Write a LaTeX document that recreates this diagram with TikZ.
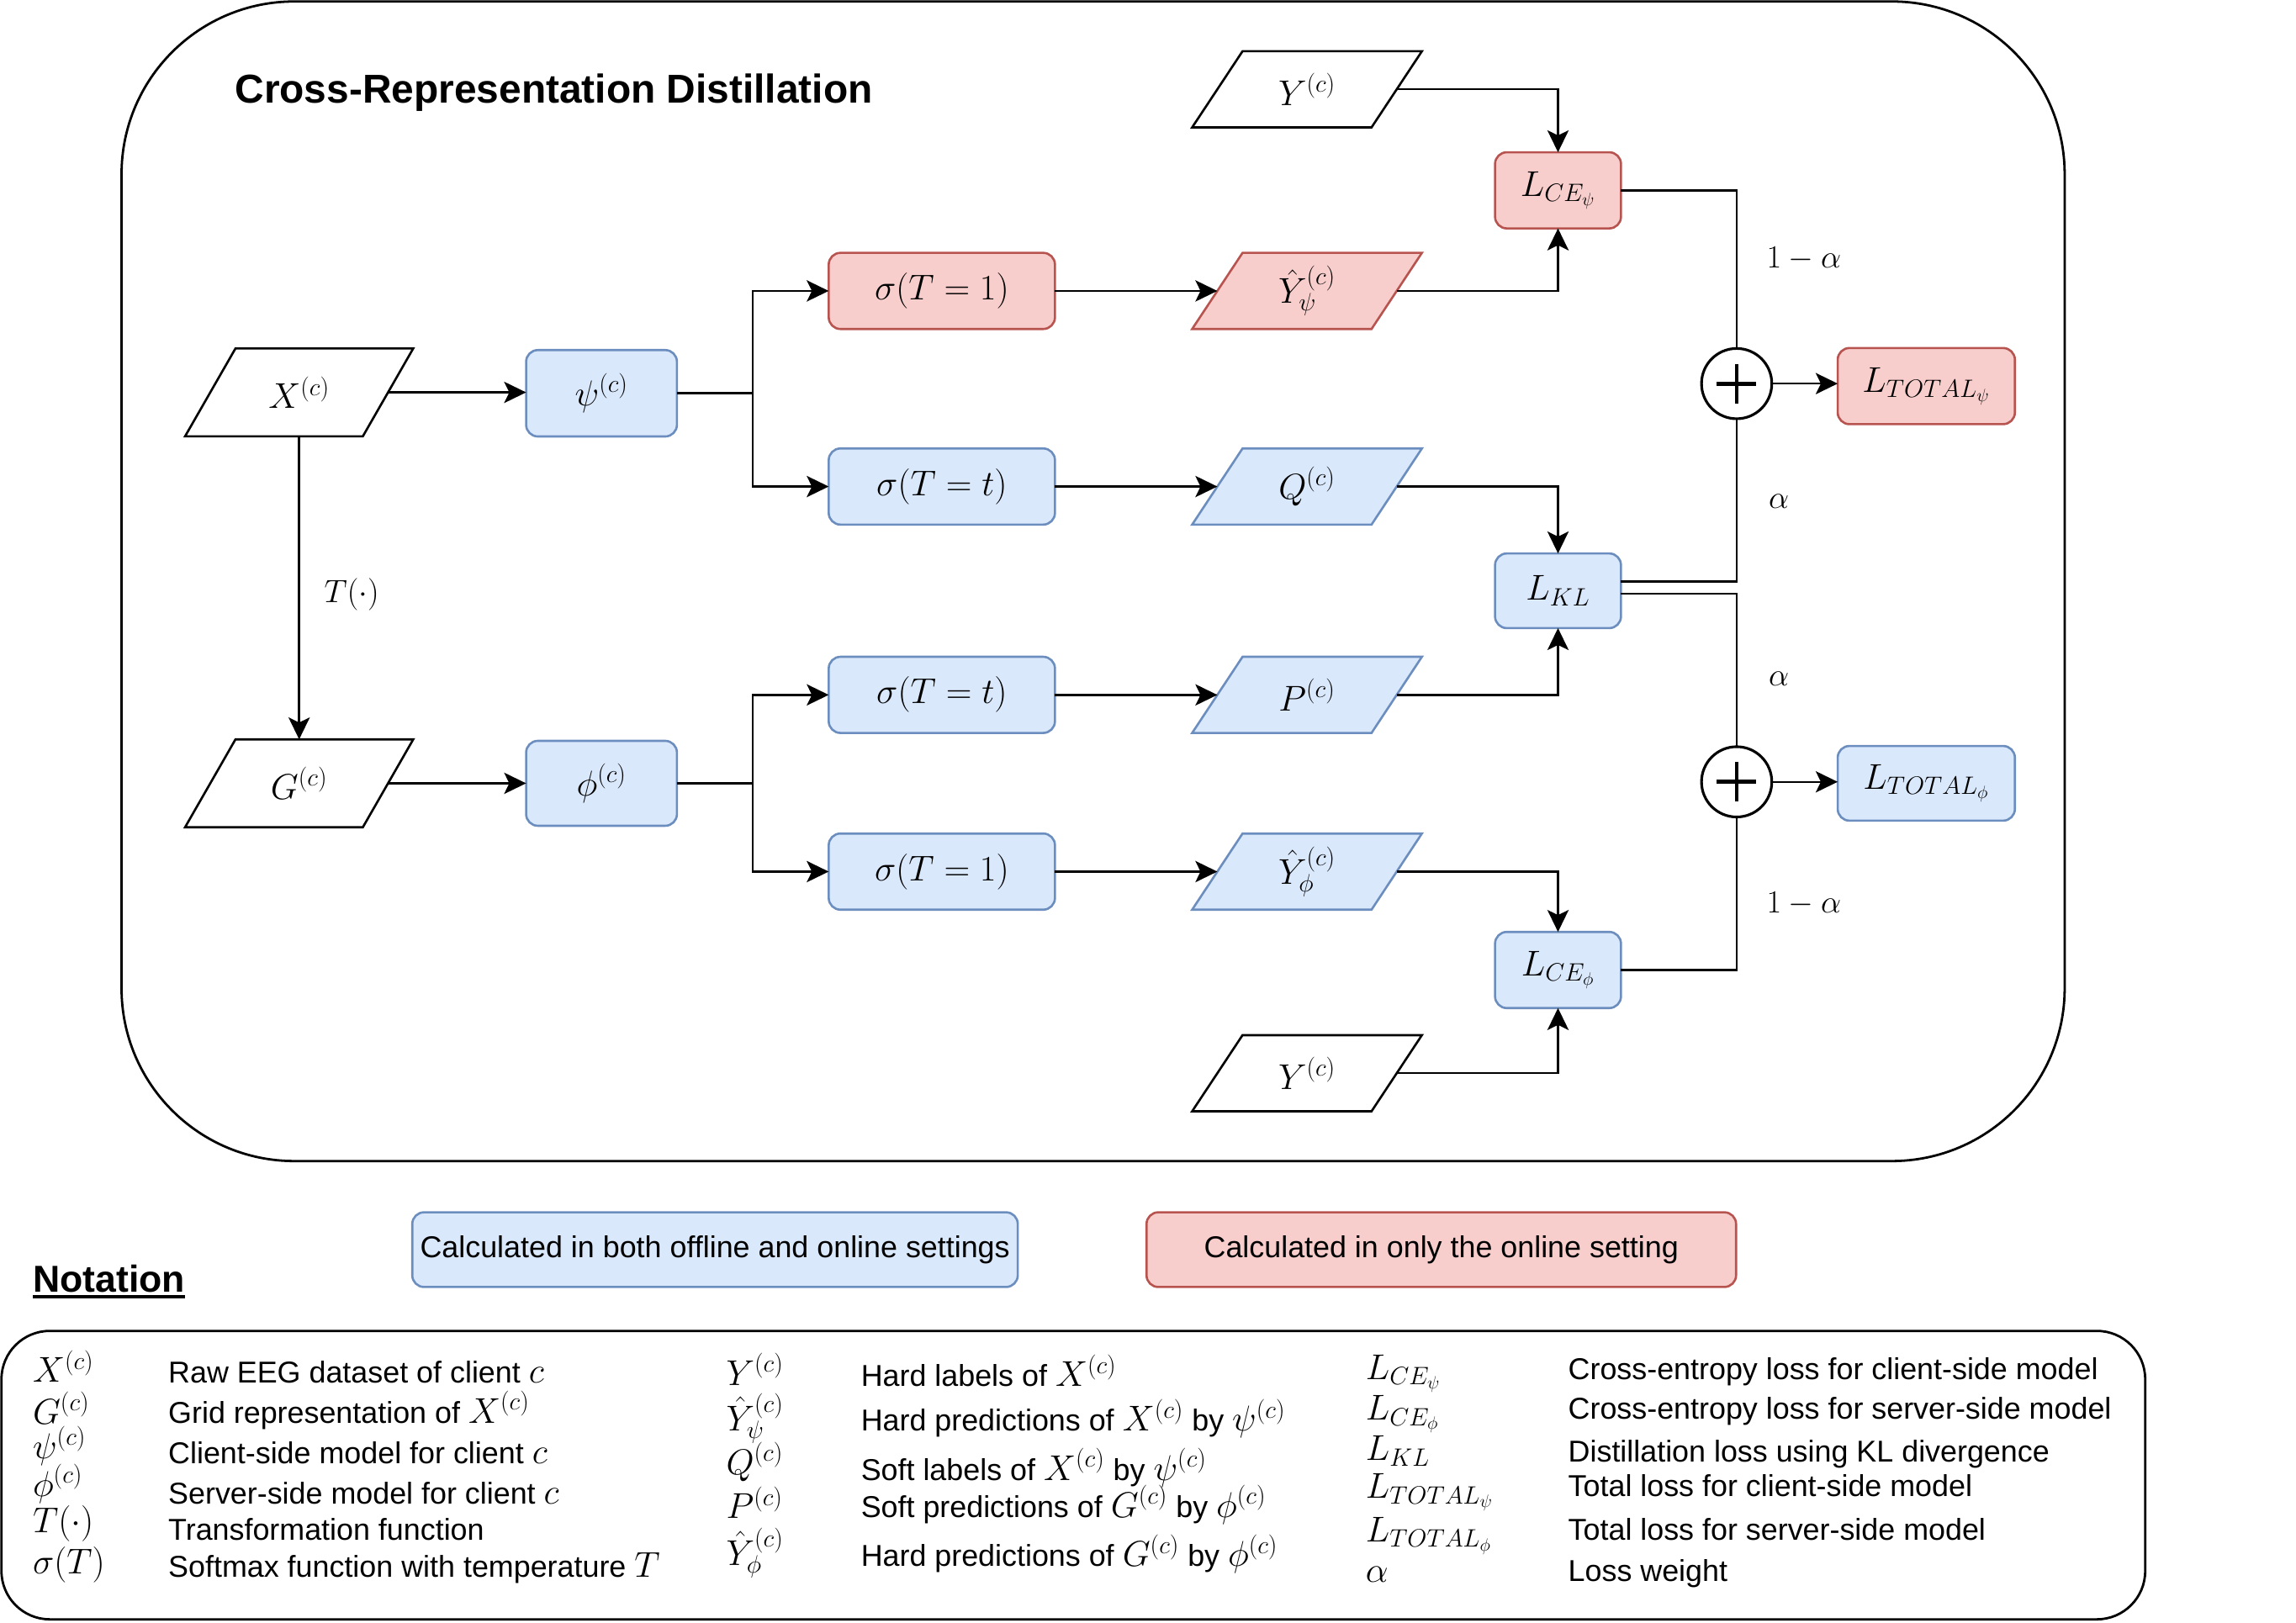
\RequirePackage{fix-cm}
\documentclass[tikz,border=0pt]{standalone}
\usepackage{fontspec}
\setmainfont{Liberation Sans}
\usetikzlibrary{arrows.meta,calc}
\pgfdeclarelayer{background}
\pgfsetlayers{background,main}
\definecolor{bfill}{HTML}{DAE8FC}
\definecolor{bdraw}{HTML}{6C8EBF}
\definecolor{rfill}{HTML}{F8CECC}
\definecolor{rdraw}{HTML}{B85450}
\tikzset{
  base/.style={inner sep=0pt, outer sep=0pt},
  mth/.style={base, font=\fontsize{24.5}{29}\selectfont},
  lbl/.style={base, font=\fontsize{22}{26}\selectfont},
  txt/.style={base, font=\fontsize{20.6}{24}\selectfont},
  rbox/.style={mth, draw, rounded corners=8pt, line width=1.5pt},
  bluebox/.style={rbox, fill=bfill, draw=bdraw},
  redbox/.style={rbox, fill=rfill, draw=rdraw},
  sbox/.style={minimum width=154.5pt, minimum height=52pt},
  lbox/.style={minimum width=86pt, minimum height=52pt},
  tbox/.style={minimum width=121pt, minimum height=52pt},
  paraX/.style={mth, minimum width=121.4pt, minimum height=60pt},
  paraY/.style={mth, minimum width=122.5pt, minimum height=52pt},
  parashape/.style={line width=1.5pt},
  conn/.style={line width=1.4pt},
  arr/.style={conn, -{Stealth[length=15pt,width=14.5pt,inset=3.5pt]}},
  sumnode/.style={base, circle, draw, line width=1.8pt, minimum size=48pt, fill=white,
    path picture={
      \draw[line width=2.8pt] ([xshift=-13.5pt]path picture bounding box.center) -- ([xshift=13.5pt]path picture bounding box.center);
      \draw[line width=2.8pt] ([yshift=-13.5pt]path picture bounding box.center) -- ([yshift=13.5pt]path picture bounding box.center);}},
  nsym/.style={base, anchor=base west, font=\fontsize{24.5}{29}\selectfont},
  ndesc/.style={base, anchor=base west, font=\fontsize{20.6}{24}\selectfont},
}
% inline math in the notation descriptions, set larger than the text
\newcommand{\inm}[1]{{\fontsize{24.5}{24}\selectfont$#1$}}
% parallelogram outline behind a named node: name, fill, stroke
\newcommand{\paradraw}[3]{%
  \begin{pgfonlayer}{background}
  \draw[parashape, fill=#2, draw=#3] ([xshift=-17.2pt]#1.south west) -- ([xshift=17.2pt]#1.north west)
     -- ([xshift=17.2pt]#1.north east) -- ([xshift=-17.2pt]#1.south east) -- cycle;
  \end{pgfonlayer}}
\begin{document}
\begin{tikzpicture}[x=1pt, y=-1pt]
\useasboundingbox (0,0) rectangle (1568,1108);
% main frame
\draw[line width=1.6pt, rounded corners=118pt] (83,1) rectangle (1410,793);
\node[base, anchor=base west, font=\bfseries\fontsize{27.5}{32}\selectfont] (title) at (160.5,70.5) {Cross-Representation Distillation};

% inputs and models
\node[paraX] (X) at (204.3,268) {$X^{(c)}$};
\paradraw{X}{white}{black}
\node[paraX] (G) at (204.3,535) {$G^{(c)}$};
\paradraw{G}{white}{black}
\node[bluebox, minimum width=103pt, minimum height=59pt] (psi) at (410.8,268.6) {$\psi^{(c)}$};
\node[bluebox, minimum width=103pt, minimum height=58pt] (phi) at (410.8,535) {$\phi^{(c)}$};

% softmax boxes
\node[redbox, sbox] (s1) at (643.2,198.7) {$\sigma(T=1)$};
\node[bluebox, sbox] (s2) at (643.2,332.3) {$\sigma(T=t)$};
\node[bluebox, sbox] (s3) at (643.2,474.6) {$\sigma(T=t)$};
\node[bluebox, sbox] (s4) at (643.2,595.3) {$\sigma(T=1)$};

% outputs
\node[paraY] (Y1) at (892.6,61) {$Y^{(c)}$};
\paradraw{Y1}{white}{black}
\node[paraY] (Yp) at (892.6,198.7) {$\hat{Y}_{\psi}^{(c)}$};
\paradraw{Yp}{rfill}{rdraw}
\node[paraY] (Q) at (892.6,332.3) {$Q^{(c)}$};
\paradraw{Q}{bfill}{bdraw}
\node[paraY] (P) at (892.6,474.6) {$P^{(c)}$};
\paradraw{P}{bfill}{bdraw}
\node[paraY] (Yf) at (892.6,595.3) {$\hat{Y}_{\phi}^{(c)}$};
\paradraw{Yf}{bfill}{bdraw}
\node[paraY] (Y2) at (892.6,733) {$Y^{(c)}$};
\paradraw{Y2}{white}{black}

% losses
\node[redbox, lbox] (Lce1) at (1064,130) {$L_{CE_{\psi}}$};
\node[bluebox, lbox, minimum height=51pt] (Lkl) at (1064,403.5) {$L_{KL}$};
\node[bluebox, lbox] (Lce2) at (1064,662.5) {$L_{CE_{\phi}}$};
\node[sumnode] (sum1) at (1186,262) {};
\node[sumnode] (sum2) at (1186,534) {};
\node[redbox, tbox] (Lt1) at (1315.5,263.7) {$L_{TOTAL_{\psi}}$};
\node[bluebox, tbox, minimum height=51pt] (Lt2) at (1315.5,535) {$L_{TOTAL_{\phi}}$};

% connectors
\coordinate (j1) at (514,268.6);
\coordinate (j2) at (514,535);
\draw[arr] (X.east) -- (X.east -| psi.west);
\draw[arr] (X.south) -- (G.north);
\node[lbl, anchor=west] (tlab) at (221.5,405.8) {$T(\cdot)$};
\draw[arr] (G.east) -- (G.east -| phi.west);
\draw[conn] (psi.east) -- (j1);
\draw[arr] (j1) |- (s1.west);
\draw[arr] (j1) |- (s2.west);
\draw[conn] (phi.east) -- (j2);
\draw[arr] (j2) |- (s3.west);
\draw[arr] (j2) |- (s4.west);
\draw[arr] (s1.east) -- (Yp.west);
\draw[arr] (s2.east) -- (Q.west);
\draw[arr] (s3.east) -- (P.west);
\draw[arr] (s4.east) -- (Yf.west);
\draw[arr] (Y1.east) -| (Lce1.north);
\draw[arr] (Yp.east) -| (Lce1.south);
\draw[arr] (Q.east) -| (Lkl.north);
\draw[arr] (P.east) -| (Lkl.south);
\draw[arr] (Yf.east) -| (Lce2.north);
\draw[arr] (Y2.east) -| (Lce2.south);
\draw[conn] (Lce1.east) -| (sum1.north);
\draw[conn] ([yshift=6.3pt]Lkl.east) -| (sum1.south);
\draw[conn] ([yshift=-2.1pt]Lkl.east) -| (sum2.north);
\draw[conn] (Lce2.east) -| (sum2.south);
\draw[arr] (sum1.east) -- (sum1.east -| Lt1.west);
\draw[arr] (sum2.east) -- (sum2.east -| Lt2.west);
\node[lbl, anchor=west] (la1) at (1206.5,177) {$1-\alpha$};
\node[lbl, anchor=west] (la2) at (1208,342.3) {$\alpha$};
\node[lbl, anchor=west] (la3) at (1208,463.4) {$\alpha$};
\node[lbl, anchor=west] (la4) at (1206.5,617) {$1-\alpha$};

% legend
\node[bluebox, txt, minimum width=413.5pt, minimum height=51pt] (legb) at (488.3,853.5) {Calculated in both offline and online settings};
\node[redbox, txt, minimum width=402.6pt, minimum height=51pt] (legr) at (984.3,853.5) {Calculated in only the online setting};

% notation
\node[base, anchor=base west, font=\bfseries\fontsize{25.6}{30}\selectfont] (nothd) at (22.5,882.6)
  {\setbox0\hbox{Notation}\rlap{\rule[-4pt]{\wd0}{2pt}}\box0};
\draw[line width=1.6pt, rounded corners=33pt] (1,909) rectangle (1465,1106);

\node[nsym] (n1a) at (22.4,944) {$X^{(c)}$};
\node[nsym] (n1b) at (22.4,972.5) {$G^{(c)}$};
\node[nsym] (n1c) at (22.4,996) {$\psi^{(c)}$};
\node[nsym] (n1d) at (22.4,1022) {$\phi^{(c)}$};
\node[nsym] (n1e) at (22.4,1047) {$T(\cdot)$};
\node[nsym] (n1f) at (22.4,1075) {$\sigma(T)$};
\node[ndesc] (d1a) at (115,944.5) {Raw EEG dataset of client \inm{c}};
\node[ndesc] (d1b) at (115,972) {Grid representation of \inm{X^{(c)}}};
\node[ndesc] (d1c) at (115,999.5) {Client-side model for client \inm{c}};
\node[ndesc] (d1d) at (115,1027) {Server-side model for client \inm{c}};
\node[ndesc] (d1e) at (115,1052) {Transformation function};
\node[ndesc] (d1f) at (115,1077) {Softmax function with temperature \inm{T}};

\node[nsym] (n2a) at (496,946) {$Y^{(c)}$};
\node[nsym] (n2b) at (496,977.4) {$\hat{Y}_{\psi}^{(c)}$};
\node[nsym] (n2c) at (496,1007) {$Q^{(c)}$};
\node[nsym] (n2d) at (496,1037) {$P^{(c)}$};
\node[nsym] (n2e) at (496,1069.3) {$\hat{Y}_{\phi}^{(c)}$};
\node[ndesc] (d2a) at (588,947) {Hard labels of \inm{X^{(c)}}};
\node[ndesc] (d2b) at (588,977.5) {Hard predictions of \inm{X^{(c)}} by \inm{\psi^{(c)}}};
\node[ndesc] (d2c) at (588,1011) {Soft labels of \inm{X^{(c)}} by \inm{\psi^{(c)}}};
\node[ndesc] (d2d) at (588,1036.4) {Soft predictions of \inm{G^{(c)}} by \inm{\phi^{(c)}}};
\node[ndesc] (d2e) at (588,1070) {Hard predictions of \inm{G^{(c)}} by \inm{\phi^{(c)}}};

\node[nsym] (n3a) at (932.7,942) {$L_{CE_{\psi}}$};
\node[nsym] (n3b) at (932.7,970) {$L_{CE_{\phi}}$};
\node[nsym] (n3c) at (932.7,997.5) {$L_{KL}$};
\node[nsym] (n3d) at (932.7,1023.4) {$L_{TOTAL_{\psi}}$};
\node[nsym] (n3e) at (932.7,1053) {$L_{TOTAL_{\phi}}$};
\node[nsym] (n3f) at (932.7,1080.8) {$\alpha$};
\node[ndesc] (d3a) at (1071,942) {Cross-entropy loss for client-side model};
\node[ndesc] (d3b) at (1071,969) {Cross-entropy loss for server-side model};
\node[ndesc] (d3c) at (1071,998.5) {Distillation loss using KL divergence};
\node[ndesc] (d3d) at (1071,1022) {Total loss for client-side model};
\node[ndesc] (d3e) at (1071,1052) {Total loss for server-side model};
\node[ndesc] (d3f) at (1071,1080) {Loss weight};
\end{tikzpicture}
\end{document}
